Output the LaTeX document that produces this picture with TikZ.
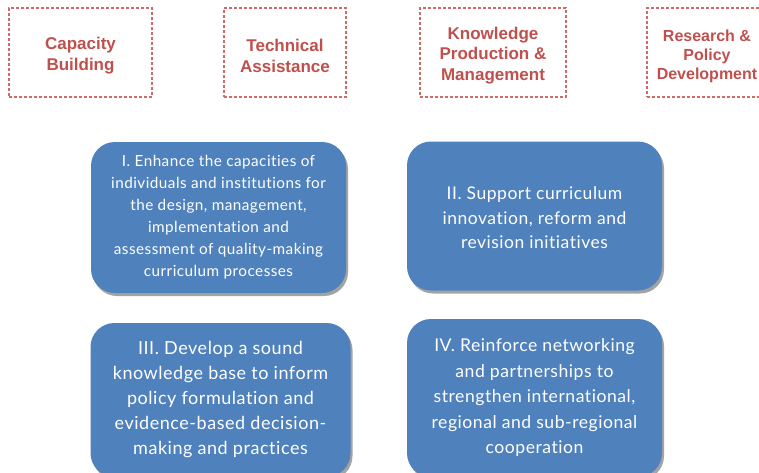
\documentclass[tikz,border=0pt]{standalone}
\usepackage{fontspec}
\setmainfont{Liberation Sans}
\newfontfamily\boxfont[LetterSpace=3,Ligatures=NoCommon]{Lato}
\usetikzlibrary{shadows}
\definecolor{redline}{HTML}{D06A67}
\definecolor{redtext}{HTML}{C0504D}
\definecolor{bluefill}{HTML}{4F81BD}
\tikzset{
  areabox/.style={draw=redline, line width=1.3pt, dash pattern=on 3pt off 2pt,
    inner sep=0pt, minimum height=89pt},
  arealabel/.style={text=redtext, font=\fontsize{17}{21}\selectfont\bfseries,
    align=center, inner sep=0pt},
  goalbox/.style={fill=bluefill, rounded corners=24pt, text=white, align=center,
    inner sep=0pt, minimum width=255pt,
    drop shadow={shadow xshift=2pt, shadow yshift=-3pt, fill=black!45, opacity=0.8}},
}
\begin{document}
\begin{tikzpicture}[x=1pt,y=-1pt]
\useasboundingbox (0,0) rectangle (759,472);
\clip (0,0) rectangle (759,472);
\fill[white] (0,0) rectangle (759,472);
% top area boxes
\node[areabox, minimum width=143pt] (cb) at (80.5,52.5) {};
\node[arealabel] (cbt) at (80.5,55.5) {Capacity\\Building};
\node[areabox, minimum width=122pt] (ta) at (285,52.5) {};
\node[arealabel] (tat) at (285,55.5) {Technical\\Assistance};
\node[areabox, minimum width=146pt] (kp) at (493,52.5) {};
\node[arealabel, font=\fontsize{17}{20.5}\selectfont\bfseries] (kpt) at (493,55.5) {Knowledge\\Production \&\\Management};
\node[areabox, minimum width=124pt] (rp) at (709,52.5) {};
\node[arealabel, font=\fontsize{16}{19}\selectfont\bfseries] (rpt) at (707,56) {Research \&\\Policy\\Development};
% goal boxes
\node[goalbox, minimum height=151pt, font=\boxfont\fontsize{15.3}{22}\selectfont] (g1) at (218.5,217.5)
  {I. Enhance the capacities of\\individuals and institutions for\\the design, management,\\implementation and\\assessment of quality-making\\curriculum processes};
\node[goalbox, minimum height=149pt, font=\boxfont\fontsize{17.5}{24.5}\selectfont] (g2) at (534.5,216)
  {};
\node[text=white, align=center, inner sep=0pt, font=\boxfont\fontsize{17.5}{24.5}\selectfont] (g2t) at (534.5,218)
  {II. Support curriculum\\innovation, reform and\\revision initiatives};
\node[goalbox, minimum width=260pt, minimum height=154pt, font=\boxfont\fontsize{18}{25}\selectfont] (g3) at (220.5,400)
  {III. Develop a sound\\knowledge base to inform\\policy formulation and\\evidence-based decision-\\making and practices};
\node[goalbox, minimum height=158pt, font=\boxfont\fontsize{17.6}{25.5}\selectfont] (g4) at (534.5,398)
  {IV. Reinforce networking\\and partnerships to\\strengthen international,\\regional and sub-regional\\cooperation};
\end{tikzpicture}
\end{document}
